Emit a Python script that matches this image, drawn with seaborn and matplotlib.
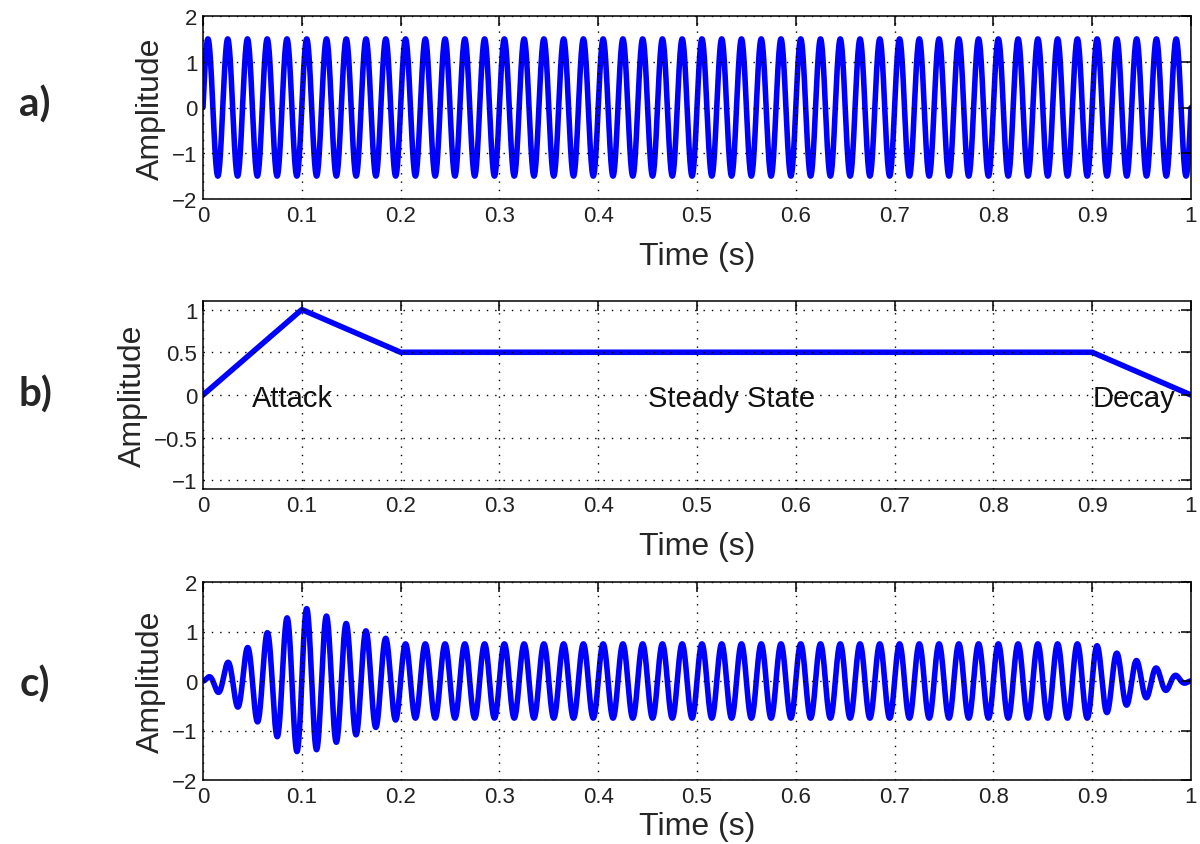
import numpy as np
import pandas as pd
import matplotlib
matplotlib.use("Agg")
import matplotlib.pyplot as plt
import seaborn as sns

# ---- data ----
SAMPLE_RATE = 8000          # samples per second
DURATION_S = 1.0
TONE_FREQ_HZ = 50
TONE_AMPLITUDE = 1.5
ENV_TIMES = [0.0, 0.1, 0.2, 0.9, 1.0]
ENV_LEVELS = [0.0, 1.0, 0.5, 0.5, 0.0]
PHASE_NAMES = ["Attack", "Steady State", "Decay"]
PHASE_START = [0.05, 0.45, 0.9]
X_TICKS = [0, 0.1, 0.2, 0.3, 0.4, 0.5, 0.6, 0.7, 0.8, 0.9, 1]
X_TICK_LABELS = ["0", "0.1", "0.2", "0.3", "0.4", "0.5", "0.6", "0.7", "0.8", "0.9", "1"]
Y_TICKS_SIG = [-2, -1, 0, 1, 2]
Y_TICK_LABELS_SIG = ["\u22122", "\u22121", "0", "1", "2"]
Y_TICKS_ENV = [-1, -0.5, 0, 0.5, 1]
Y_TICK_LABELS_ENV = ["\u22121", "\u22120.5", "0", "0.5", "1"]
PANEL_TAGS = ["a)", "b)", "c)"]

t = np.arange(0, int(SAMPLE_RATE * DURATION_S) + 1) / SAMPLE_RATE
tone = TONE_AMPLITUDE * np.sin(2 * np.pi * TONE_FREQ_HZ * t)
env_at_t = np.interp(t, ENV_TIMES, ENV_LEVELS)
shaped = tone * env_at_t

df_tone = pd.DataFrame({"t": t, "y": tone})
df_env = pd.DataFrame({"t": ENV_TIMES, "y": ENV_LEVELS})
df_shaped = pd.DataFrame({"t": t, "y": shaped})

# ---- style ----
sns.set_style("white")
plt.rcParams["font.family"] = ["Liberation Sans", "DejaVu Sans"]
plt.rcParams["axes.unicode_minus"] = True

fig = plt.figure(figsize=(12, 8.45), dpi=100)
W, H = 1200, 845

def axes_px(left, top, right, bottom):
    return fig.add_axes([left / W, (H - bottom) / H, (right - left) / W, (bottom - top) / H])

ax_a = axes_px(203, 17, 1191, 200)
ax_b = axes_px(203, 302, 1191, 490)
ax_c = axes_px(203, 583, 1191, 781)

BLUE = "#0000ff"
LW = 4.0

sns.lineplot(data=df_tone, x="t", y="y", ax=ax_a, color=BLUE, lw=LW,
             estimator=None, sort=False)
sns.lineplot(data=df_env, x="t", y="y", ax=ax_b, color=BLUE, lw=LW,
             estimator=None, sort=False)
sns.lineplot(data=df_shaped, x="t", y="y", ax=ax_c, color=BLUE, lw=LW,
             estimator=None, sort=False)

for name, x0 in zip(PHASE_NAMES, PHASE_START):
    ax_b.text(x0, -0.04, name, ha="left", va="center", fontsize=21, color="#111111")

def style(ax, yticks, ylabels, ylim, xlabelpad):
    ax.set_xlim(0, 1)
    ax.set_ylim(*ylim)
    ax.set_xticks(X_TICKS)
    ax.set_xticklabels(X_TICK_LABELS)
    ax.set_yticks(yticks)
    ax.set_yticklabels(ylabels)
    ax.grid(True, color="black", linestyle=(0, (1, 5)), linewidth=1.0)
    ax.set_axisbelow(False)
    for s in ax.spines.values():
        s.set_visible(True)
        s.set_color("black")
        s.set_linewidth(1.1)
    ax.tick_params(direction="in", length=7, width=1.1, top=True, right=True,
                   labelsize=16, colors="black", labelcolor="#222222", pad=4)
    ax.set_xlabel("Time (s)", fontsize=23, labelpad=xlabelpad)
    ax.set_ylabel("Amplitude", fontsize=23, labelpad=4)

style(ax_a, Y_TICKS_SIG, Y_TICK_LABELS_SIG, (-2, 2), 11)
style(ax_b, Y_TICKS_ENV, Y_TICK_LABELS_ENV, (-1.1, 1.1), 11)
style(ax_c, Y_TICKS_SIG, Y_TICK_LABELS_SIG, (-2, 2), 3)

for tag, yc in zip(PANEL_TAGS, [105, 395, 685]):
    fig.text(35 / W, (H - yc) / H, tag, ha="center", va="center",
             fontsize=29, fontweight="bold", family=["Lato", "DejaVu Sans"])

fig.savefig("out.png", dpi=100)
